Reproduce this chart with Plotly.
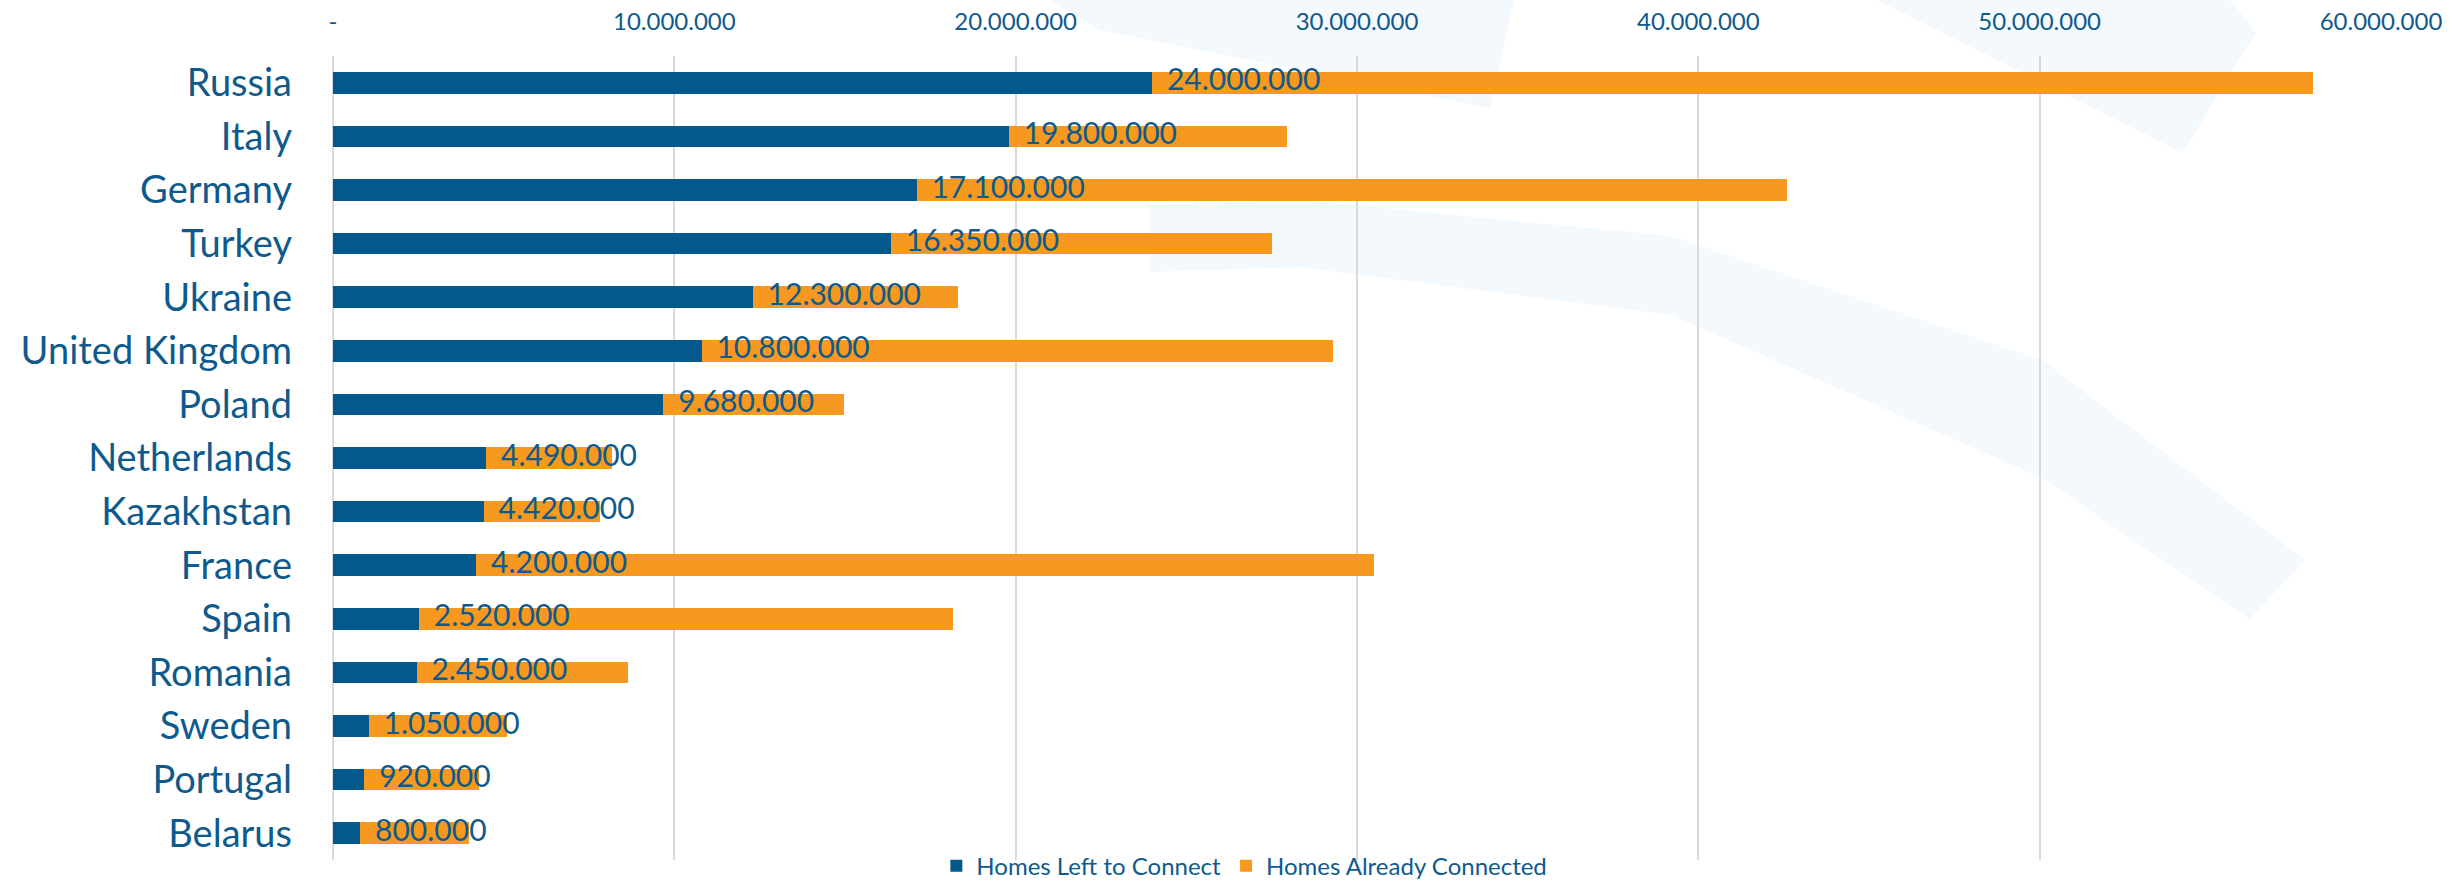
import plotly.graph_objects as go

countries = ["Russia", "Italy", "Germany", "Turkey", "Ukraine", "United Kingdom", "Poland",
             "Netherlands", "Kazakhstan", "France", "Spain", "Romania", "Sweden", "Portugal", "Belarus"]
homes_left = [24000000, 19800000, 17100000, 16350000, 12300000, 10800000, 9680000,
              4490000, 4420000, 4200000, 2520000, 2450000, 1050000, 920000, 800000]
homes_connected = [34000000, 8150000, 25500000, 11150000, 6000000, 18500000, 5290000,
                   3680000, 3410000, 26300000, 15650000, 6200000, 4050000, 3350000, 3180000]
tick_values = [0, 10000000, 20000000, 30000000, 40000000, 50000000, 60000000]
tick_labels = ["-", "10.000.000", "20.000.000", "30.000.000", "40.000.000", "50.000.000", "60.000.000"]

BLUE = "#03598C"
ORANGE = "#F8991F"
TEXT = "#0F5A8C"
SWOOSH = "#F4F9FD"
FONT = "Lato"

# plot-area geometry (pixels) used only for the faint decorative background swooshes
L, R, T, B = 333, 2381, 56, 860


def pp(x, y):
    return f"{(x - L) / (R - L):.4f},{(B - y) / (B - T):.4f}"


def path(points):
    return "M " + " L ".join(pp(x, y) for x, y in points) + " Z"


swoosh_a = [(1150, 205), (1300, 200), (1671, 236), (2042, 360), (2305, 560),
            (2250, 619), (2042, 478), (1671, 315), (1300, 267), (1150, 272)]
swoosh_b = [(1050, 0), (1514, 0), (1490, 108), (1200, 50), (1100, 30)]
swoosh_c = [(1877, 0), (2230, 0), (2256, 32), (2183, 153)]

label_text = [f"{v:,}".replace(",", ".") for v in homes_left]

fig = go.Figure()
fig.add_trace(go.Bar(y=countries, x=homes_left, orientation="h", name="Homes Left to Connect",
                     marker=dict(color=BLUE, line=dict(width=0))))
fig.add_trace(go.Bar(y=countries, x=homes_connected, orientation="h", name="Homes Already Connected",
                     marker=dict(color=ORANGE, line=dict(width=0))))
fig.add_trace(go.Scatter(y=countries, x=homes_left, mode="markers+text", text=label_text,
                         marker=dict(size=22, color="rgba(0,0,0,0)"),
                         textposition="middle right", textfont=dict(family=FONT, size=30, color=TEXT),
                         showlegend=False, cliponaxis=False, hoverinfo="skip"))

shapes = [dict(type="path", xref="paper", yref="paper", path=path(p), fillcolor=SWOOSH,
               line=dict(width=0), layer="below") for p in (swoosh_a, swoosh_b, swoosh_c)]

fig.update_layout(
    width=2463, height=882,
    barmode="stack", bargap=0.6,
    paper_bgcolor="white", plot_bgcolor="rgba(0,0,0,0)",
    margin=dict(l=L, r=2463 - R, t=T, b=882 - B, autoexpand=False),
    font=dict(family=FONT, color=TEXT),
    shapes=shapes,
    legend=dict(orientation="h", x=0.445, xanchor="center", y=-0.0075, yanchor="middle",
                font=dict(family=FONT, size=24, color=TEXT), bgcolor="rgba(0,0,0,0)",
                traceorder="normal"),
    xaxis=dict(side="top", range=[0, 60000000], tickvals=tick_values, ticktext=tick_labels,
               showgrid=True, gridcolor="#D9D9D9", gridwidth=2, zeroline=True,
               zerolinecolor="#D9D9D9", zerolinewidth=2, showline=False,
               tickfont=dict(family=FONT, size=24, color=TEXT), ticks="", ticklabelstandoff=20),
    yaxis=dict(range=[len(countries) - 0.5, -0.5], showgrid=False, showline=False, zeroline=False,
               tickfont=dict(family=FONT, size=38, color=TEXT), ticks="", ticklabelstandoff=40),
)

fig.write_html("out.html")
